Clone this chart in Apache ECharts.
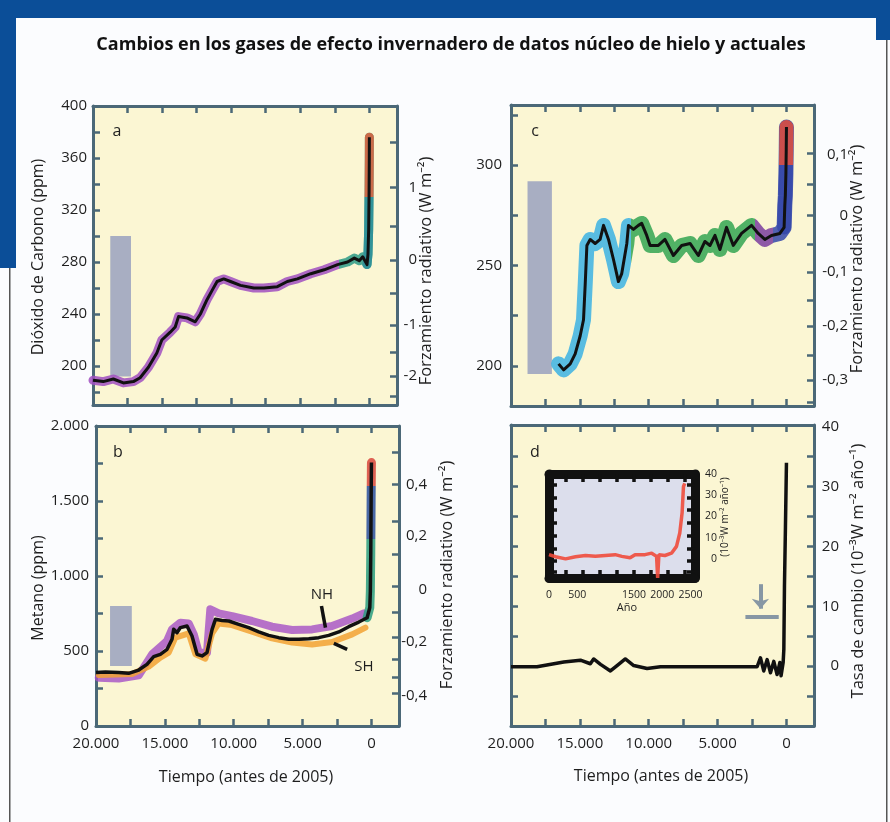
<!DOCTYPE html>
<html><head><meta charset="utf-8">
<script src="https://cdn.jsdelivr.net/npm/echarts@6/dist/echarts.min.js"></script>
<style>html,body{margin:0;padding:0;background:#fbfcfe}#c{width:890px;height:822px}</style>
</head><body><div id="c"></div>
<script>
// ---------------- DATA ----------------
// Panel a: CO2 (ppm) vs years before 2005
const co2Years = [20000,19260,18530,17800,17080,16590,15990,15380,15020,14410,14050,13810,13200,12600,12230,11750,11390,11020,10540,10050,9330,8360,7630,6660,5940,5210,4240,3270,2300,1575,1090,730,480,170,100,50,20,5,0];
const co2Ppm   = [189,188,190,187,188,191,199,210,220,226,230,238,237,234,240,251,258,265,267,265,262,260,260,261,265,267,271,274,278,280,283,281,284,278,286,305,335,360,376];
// Panel b: CH4 (ppb) composite, NH and SH records
const ch4Years = [20000,19320,18350,17630,16900,16300,15810,15330,14840,14480,14360,14120,13870,13390,13030,12660,12300,11940,11570,11330,10850,10360,9640,8910,8180,7460,6730,6000,5280,4550,3830,3100,2370,1650,920,315,200,120,80,50,25,5,0];
const ch4Ppb   = [356,360,356,351,373,411,462,478,511,578,645,622,656,667,600,478,467,489,644,711,704,700,678,656,627,604,589,578,578,582,589,604,627,662,693,722,730,790,900,1150,1500,1720,1756];
const ch4NhYears = [19800,18350,16900,15930,14840,14480,13870,13270,12900,12540,11940,11700,11090,10120,8670,7220,5760,4310,2860,1400,557];
const ch4NhPpb   = [322,316,338,478,567,644,689,684,611,489,489,778,751,733,700,662,640,644,667,716,751];
const ch4ShYears = [19800,17380,16170,15330,14720,14240,13270,12780,12060,11570,11090,10120,8670,7220,5760,4310,2860,1400,436];
const ch4ShPpb   = [340,347,396,456,489,589,618,478,449,618,684,673,629,584,556,544,560,611,656];
// Panel c: N2O (ppb)
const n2oYears = [16545,16180,15700,15340,14975,14735,14610,14490,14250,13890,13530,13280,12920,12560,12200,11960,11590,11470,11110,10750,10510,10145,9900,9300,8820,8210,7610,7000,6400,5920,5555,5190,4830,4350,3860,3260,2535,2050,1570,1090,480,170,120,80,40,15,0];
const n2oPpb   = [201,198,201,206,215,223,241,260,263,261,263,270,263,253,242,246,261,270,268,270,271,265,260,260,263,255,260,261,255,262,260,265,258,269,260,266,270,266,263,265,266,269,280,285,296,308,319];
// Panel d: rate of change of forcing (10^-3 W m^-2 yr^-1)
const rateYears = [20000,18110,16170,14960,14240,14000,13500,12780,12300,11700,11090,10120,9150,7220,4790,2130,1890,1650,1400,1160,920,680,480,390,240,190,145,73,0];
const rateVals  = [-0.1,-0.1,0.7,1.0,0.4,1.2,0.3,-0.8,0.1,1.2,0.1,-0.4,-0.1,-0.1,-0.1,-0.1,1.4,-0.8,1.1,-1.1,0.8,-1.4,0.6,-1.6,0.6,2.8,13.3,23.3,34];
// Inset in d
const insetYears = [0,117,293,468,644,820,995,1170,1287,1433,1521,1697,1814,1901,1920,1942,2048,2165,2253,2311,2352,2376,2399];
const insetVals  = [2.0,1.0,0,1.0,1.6,1.2,1.6,2.0,1.2,0.5,2.0,2.0,2.7,1.2,-9,2.0,1.6,2.7,5.9,12.2,21.7,34,35.6];
// Natural-variability ranges (grey bars): [yearFrom, yearTo, low, high]
const greyA = [18750, 17250, 192, 300];
const greyB = [18980, 17400, 400, 800];
const greyC = [18800, 17030, 196, 292];
// Ticks and tick labels
const xTicks  = [20000,17500,15000,12500,10000,7500,5000,2500,0];
const xLabels = [20000,15000,10000,5000,0];
const aLeftTicks  = [180,200,220,240,260,280,300,320,340,360,380,400];
const aLeftLabels = [200,240,280,320,360,400];
const aRightTicks = [177,192.3,210.3,231.5,255.9,281.5,307.7,337.5,372];
const aRightPos   = [192.3,231.5,281.5,337.5];
const aRightText  = ['-2','-1','0','1'];
const bLeftTicks  = [0,250,500,750,1000,1250,1500,1750,2000];
const bLeftLabels = [0,500,1000,1500,2000];
const bRightTicks = [1823,1611,1367,1145,933,756,589,444,322,218];
const bRightPos   = [1611,1267,911,563,204];
const bRightText  = ['0,4','0,2','0','-0,2','-0,4'];
const cLeftTicks  = [200,225,250,275,300,325];
const cLeftLabels = [200,250,300];
const cRightTicks = [306,290.5,275,260.5,246.7,232.5,219.7,205.5,193,182];
const cRightPos   = [305,275,247,220,193];
const cRightText  = ['0,1','0','-0,1','-0,2','-0,3'];
const dTicks      = [-5,0,5,10,15,20,25,30,35];
const dLabels     = [0,10,20,30,40];
const insetXLabels = [0,500,1500,2000,2500];
const insetXTicks  = [300,600,900,1200,1500,1800,2100,2400];
const insetYLabels = [0,10,20,30,40];
const insetYTicks  = [35,29,23,17,11,5,-1,-6];

// ---------------- CHART ----------------
const F = "'Open Sans','Noto Sans',sans-serif";
const AX = '#4b6877';
const TXT = '#1e1e1e';
const zip = (a,b) => a.map((v,i)=>[v,b[i]]);
const thousands = v => Math.round(v).toString().replace(/\B(?=(\d{3})+(?!\d))/g,'.');
const lookup = (pos, txt) => v => { let k=0,d=1e9; pos.forEach((p,i)=>{ if(Math.abs(p-v)<d){d=Math.abs(p-v);k=i;} }); return txt[k]; };

const grids = [
  {left:93,  top:106, width:304, height:299},
  {left:96,  top:426, width:303, height:300},
  {left:511, top:105, width:303, height:301},
  {left:511, top:425, width:303, height:301},
  {left:549, top:474, width:146, height:104}
].map((g,i)=>Object.assign({show:true, borderWidth:0, backgroundColor: i<4 ? '#fbf6d3' : '#dcdeec'}, g));

function xPair(grid, showLabels){
  const base = {type:'value', gridIndex:grid, min:-2000, max:20000, inverse:true, splitLine:{show:false},
    axisLine:{onZero:false, lineStyle:{color:AX, width:3}},
    axisTick:{inside:true, length:7, customValues:xTicks, lineStyle:{color:AX, width:2.5}}};
  return [
    Object.assign({}, base, {position:'bottom', axisLabel:{show:showLabels, customValues:xLabels, formatter:thousands, margin:10, fontSize:15, color:TXT, fontFamily:F}}),
    Object.assign({}, base, {position:'top', axisLabel:{show:false}})
  ];
}
function yAx(grid, pos, min, max, ticks, labels, fmt, margin, align, show){
  return {type:'value', gridIndex:grid, position:pos, min:min, max:max, splitLine:{show:false},
    axisLine:{onZero:false, lineStyle:{color:AX, width:3}},
    axisTick:{inside:true, length:7, customValues:ticks, lineStyle:{color:AX, width:2.5}},
    axisLabel:{show:show, customValues:labels, formatter:fmt, margin:margin, align:align, fontSize:15, color:TXT, fontFamily:F}};
}
const xAxes = [].concat(xPair(0,false), xPair(1,true), xPair(2,false), xPair(3,true));
const insetBase = {gridIndex:4, splitLine:{show:false}, axisLine:{onZero:false, lineStyle:{color:'#111', width:9}}};
xAxes.push(Object.assign({type:'value', position:'bottom', min:0, max:2580,
  axisTick:{inside:true, length:8, customValues:insetXTicks, lineStyle:{color:'#111', width:3.5}},
  axisLabel:{customValues:insetXLabels, formatter:v=>String(v), margin:12, fontSize:10.5, color:TXT, fontFamily:F}}, insetBase));
xAxes.push(Object.assign({type:'value', position:'top', min:0, max:2580,
  axisTick:{inside:true, length:8, customValues:insetXTicks, lineStyle:{color:'#111', width:3.5}},
  axisLabel:{show:false}}, insetBase));

const yAxes = [
  yAx(0,'left',170,400,aLeftTicks,aLeftLabels,v=>String(v),6,'right',true),
  yAx(0,'right',170,400,aRightTicks,aRightPos,lookup(aRightPos,aRightText),20,'right',true),
  yAx(1,'left',0,2000,bLeftTicks,bLeftLabels,thousands,7,'right',true),
  yAx(1,'right',0,2000,bRightTicks,bRightPos,lookup(bRightPos,bRightText),28,'right',true),
  yAx(2,'left',180,330,cLeftTicks,cLeftLabels,v=>String(v),9,'right',true),
  yAx(2,'right',180,330,cRightTicks,cRightPos,lookup(cRightPos,cRightText),34,'right',true),
  yAx(3,'left',-10,40.3,dTicks,dLabels,v=>String(v),8,'right',false),
  yAx(3,'right',-10,40.3,dTicks,dLabels,v=>String(v),25,'right',true)
];
yAxes.push(Object.assign({type:'value', position:'left', min:-9, max:40,
  axisTick:{inside:true, length:8, customValues:insetYTicks, lineStyle:{color:'#111', width:3.5}},
  axisLabel:{show:false}}, insetBase));
yAxes.push(Object.assign({type:'value', position:'right', min:-9, max:40,
  axisTick:{inside:true, length:8, customValues:insetYTicks, lineStyle:{color:'#111', width:3.5}},
  axisLabel:{customValues:insetYLabels, formatter:v=>String(v), margin:22, align:'right', fontSize:10.5, color:TXT, fontFamily:F}}, insetBase));

const greyArea = g => ({silent:true, itemStyle:{color:'#a8aec2'}, data:[[{coord:[g[0],g[3]]},{coord:[g[1],g[2]]}]]});
function band(xi, data, width, color, z, opacity){
  const ls = {width:width, opacity:opacity||0.85, cap:'round', join:'round'};
  if (color) ls.color = color;
  return {type:'line', xAxisIndex:xi, yAxisIndex:xi, data:data, showSymbol:false, silent:true, z:z||2, lineStyle:ls};
}
function blackLine(xi, data, width, extra){
  return Object.assign({type:'line', xAxisIndex:xi, yAxisIndex:xi, data:data, showSymbol:false, silent:true, z:4,
    lineStyle:{width:width, color:'#111', join:'round'}}, extra||{});
}
function holder(xi, g){
  return {type:'line', xAxisIndex:xi, yAxisIndex:xi, data:[], z:1, silent:true, markArea:greyArea(g)};
}

const co2 = zip(co2Years, co2Ppm);
const ch4 = zip(ch4Years, ch4Ppb);
const n2o = zip(n2oYears, n2oPpb);

const series = [
  /*0*/ holder(0, greyA),
  /*1*/ band(0, co2, 9, null),
  /*2*/ band(0, co2.slice(-6), 9, null, 3),
  /*3*/ blackLine(0, co2, 3),
  /*4*/ holder(2, greyB),
  /*5*/ band(2, zip(ch4NhYears, ch4NhPpb), 8, '#a550c6', 2, 0.8),
  /*6*/ band(2, zip(ch4ShYears, ch4ShPpb), 6, '#f2a232', 2, 0.85),
  /*7*/ band(2, ch4.slice(35), 9, null, 3),
  /*8*/ blackLine(2, ch4, 3.5, {markLine:{silent:true, symbol:['none','none'], label:{show:false},
          lineStyle:{color:'#111', width:3.5, type:'solid'},
          data:[[{coord:[3630,800]},{coord:[3340,656]}],[{coord:[2730,551]},{coord:[1765,511]}]]}}),
  /*9*/ holder(4, greyC),
  /*10*/ band(4, n2o, 15, null),
  /*11*/ band(4, n2o.slice(-6), 14, null, 3),
  /*12*/ blackLine(4, n2o, 3),
  /*13*/ blackLine(6, zip(rateYears, rateVals), 3.5, {markLine:{silent:true, symbol:['none','none'], label:{show:false},
          lineStyle:{color:'#8797a4', width:4, type:'solid'},
          data:[[{coord:[1890,13.7]},{coord:[1890,9.6], symbol:'arrow', symbolSize:[13,10]}],
                [{coord:[2980,8.3]},{coord:[560,8.3]}]]}}),
  /*14*/ {type:'line', xAxisIndex:8, yAxisIndex:8, data:zip(insetYears, insetVals), showSymbol:false, silent:true, z:4,
          lineStyle:{width:3.5, color:'#ef4b3c', opacity:0.9}}
];

const visualMap = [
  {show:false, type:'piecewise', seriesIndex:1, dimension:0,
   pieces:[{gt:2200, color:'#a04fc0'},{gt:-10000, lte:2200, color:'#2c9a86'},{lte:-10000, color:'#2c9a86'}]},
  {show:false, type:'piecewise', seriesIndex:2, dimension:1,
   pieces:[{lt:330, color:'#2d8f9a'},{gte:330, lt:1000, color:'#e0603c'},{gte:1000, color:'#e0603c'}]},
  {show:false, type:'piecewise', seriesIndex:7, dimension:1,
   pieces:[{lt:1250, color:'#2a9d80'},{gte:1250, lt:1600, color:'#2a4f9e'},{gte:1600, color:'#d9473c'}]},
  {show:false, type:'piecewise', seriesIndex:10, dimension:0,
   pieces:[{gt:11300, color:'#3cb2e3'},{gt:2300, lte:11300, color:'#33a552'},{gt:1000, lte:2300, color:'#7b3d9e'},{lte:1000, color:'#3447aa'}]},
  {show:false, type:'piecewise', seriesIndex:11, dimension:1,
   pieces:[{lt:300, color:'#3447aa'},{gte:300, lt:1000, color:'#e04b3a'},{gte:1000, color:'#e04b3a'}]}
];

function txt(x, y, s, size, opts){
  return Object.assign({type:'text', x:x, y:y, z:100, silent:true,
    style:{text:s, fontSize:size, fontFamily:F, fill:TXT, align:'center', verticalAlign:'middle'}}, opts||{});
}
function vtxt(x, y, s, size){ return txt(x, y, s, size, {rotation:Math.PI/2}); }

const graphic = [
  {type:'rect', shape:{x:0,y:0,width:890,height:18}, style:{fill:'#0b4e98'}, z:50, silent:true},
  {type:'rect', shape:{x:0,y:0,width:16,height:268}, style:{fill:'#0b4e98'}, z:50, silent:true},
  {type:'rect', shape:{x:876,y:0,width:14,height:40}, style:{fill:'#0b4e98'}, z:50, silent:true},
  {type:'rect', shape:{x:9,y:268,width:1.5,height:554}, style:{fill:'#555'}, z:50, silent:true},
  {type:'rect', shape:{x:886,y:40,width:1.5,height:782}, style:{fill:'#555'}, z:50, silent:true},
  {type:'text', x:451, y:45, z:100, silent:true, style:{text:'Cambios en los gases de efecto invernadero de datos núcleo de hielo y actuales', fontSize:18, fontWeight:'bold', fontFamily:F, fill:'#111', align:'center', verticalAlign:'middle'}},
  txt(117, 131, 'a', 16), txt(118, 452, 'b', 16), txt(535, 131, 'c', 16), txt(535, 452, 'd', 16),
  vtxt(38, 257, 'Dióxido de Carbono (ppm)', 16),
  vtxt(426, 271, 'Forzamiento radiativo (W m⁻²)', 16.5),
  vtxt(38, 588, 'Metano (ppm)', 16),
  vtxt(447, 575, 'Forzamiento radiativo (W m⁻²)', 16.5),
  vtxt(857, 259, 'Forzamiento radiativo (W m⁻²)', 16.5),
  vtxt(858, 571, 'Tasa de cambio (10⁻³W m⁻² año⁻¹)', 16.5),
  txt(246, 777, 'Tiempo (antes de 2005)', 16),
  txt(661, 776, 'Tiempo (antes de 2005)', 16),
  txt(322, 595, 'NH', 15), txt(364, 667, 'SH', 15),
  txt(627, 608, 'Año', 11),
  vtxt(725, 517, '(10⁻³W m⁻² año⁻¹)', 10)
];

const chart = echarts.init(document.getElementById('c'), null, {renderer:'canvas'});
chart.setOption({animation:false, backgroundColor:'#fbfcfe', grid:grids, xAxis:xAxes, yAxis:yAxes,
  series:series, visualMap:visualMap, graphic:graphic});
</script></body></html>
